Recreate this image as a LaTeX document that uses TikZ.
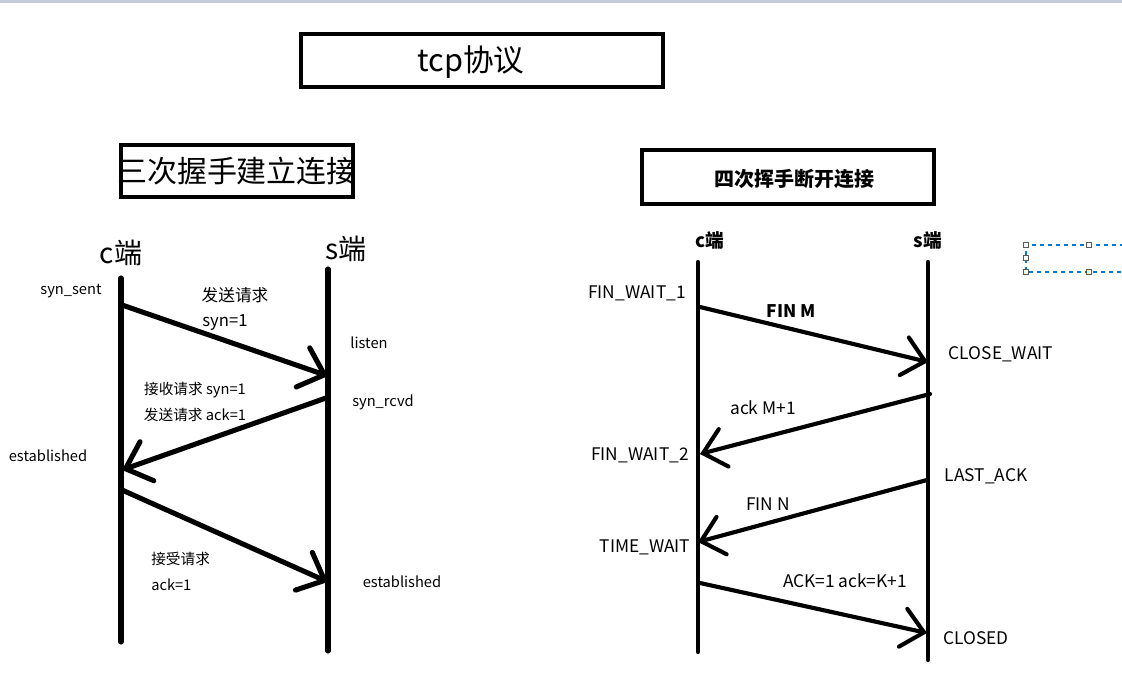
\documentclass[tikz,border=0pt]{standalone}
\usepackage{fontspec}
\setmainfont{Noto Sans CJK SC}
\usetikzlibrary{arrows.meta}
\definecolor{topbar}{RGB}{196,205,222}
\definecolor{selblue}{RGB}{0,120,215}
\definecolor{handle}{RGB}{90,90,90}
\tikzset{
  lifeL/.style={line width=3.8pt,line cap=round},
  lifeR/.style={line width=3.1pt,line cap=round},
  msgL/.style={line width=3.8pt,line cap=round,-{Straight Barb[length=17pt,width=31pt,line cap=round]}},
  msgR/.style={line width=3.1pt,line cap=round,-{Straight Barb[length=16pt,width=29pt,line cap=round]}},
  box/.style={draw,line width=3.3pt,inner sep=0pt},
  lbl/.style={inner sep=0pt,font=\fontsize{11}{13}\selectfont},
  lblR/.style={inner sep=0pt,font=\fontsize{13}{15}\selectfont},
}
\begin{document}
\begin{tikzpicture}[x=0.75pt,y=-0.75pt]
		\useasboundingbox (0,0) rectangle (1122,696);
		\fill[topbar] (0,0) rectangle (1122,2.5);
		% titles
		\node[box,minimum width=271.5pt,minimum height=39.75pt] (tcpbox) at (482,60.5) {};
		\node[inner sep=0pt,font=\fontsize{23}{26}\selectfont] (tcp) at (471,62) {tcp协议};
		\node[box,minimum width=174pt,minimum height=39pt] (sanbox) at (237,171) {};
		\node[inner sep=0pt,font=\fontsize{22.5}{26}\selectfont] (san) at (237,171) {三次握手建立连接};
		\node[box,minimum width=219pt,minimum height=40.5pt] (sibox) at (788,177) {};
		\node[inner sep=0pt,font=\fontsize{15}{18}\selectfont\bfseries] (si) at (794,179) {四次挥手断开连接};
		% three-way handshake
		\node[inner sep=0pt,font=\fontsize{21}{24}\selectfont] (c1) at (121,253) {c端};
		\node[inner sep=0pt,font=\fontsize{21}{24}\selectfont] (s1) at (346,249) {s端};
		\coordinate (c1top) at (121,278); \coordinate (c1bot) at (121,642);
		\coordinate (s1top) at (328,269); \coordinate (s1bot) at (328,651);
		\draw[lifeL] (c1top)--(c1bot);
		\draw[lifeL] (s1top)--(s1bot);
		\coordinate (a1) at (122,305); \coordinate (b1) at (328,376);
		\coordinate (b2) at (326,398); \coordinate (a2) at (122,470);
		\coordinate (a3) at (122,490); \coordinate (b3) at (328,582);
		\draw[msgL] (a1)--(b1);
		\draw[msgL] (b2)--(a2);
		\draw[msgL] (a3)--(b3);
		\node[lbl] (synsent) at (71,291) {syn\_sent};
		\node[inner sep=0pt,font=\fontsize{12.5}{15}\selectfont] (req1) at (235,295) {发送请求};
		\node[inner sep=0pt,font=\fontsize{12.5}{15}\selectfont] (syn1) at (225,323) {syn=1};
		\node[lbl] (listen) at (369,343) {listen};
		\node[lbl] (recv) at (195,390) {接收请求 syn=1};
		\node[lbl] (send) at (195,415) {发送请求 ack=1};
		\node[lbl] (synrcvd) at (383,402) {syn\_rcvd};
		\node[lbl] (estc) at (48,456) {established};
		\node[lbl,anchor=west] (acc) at (151,559) {接受请求};
		\node[lbl,anchor=west] (ack1) at (151,585) {ack=1};
		\node[lbl] (ests) at (402,582) {established};
		% four-way handshake
		\node[inner sep=0pt,font=\fontsize{14}{16}\selectfont\bfseries] (c2) at (710,240) {c端};
		\node[inner sep=0pt,font=\fontsize{14}{16}\selectfont\bfseries] (s2) at (928,240) {s端};
		\coordinate (c2top) at (698,262); \coordinate (c2bot) at (698,652);
		\coordinate (s2top) at (928,262); \coordinate (s2bot) at (928,660);
		\draw[lifeR] (c2top)--(c2bot);
		\draw[lifeR] (s2top)--(s2bot);
		\coordinate (p1) at (700,307); \coordinate (q1) at (928,362);
		\coordinate (q2) at (930,394); \coordinate (p2) at (700,454);
		\coordinate (q3) at (927,480); \coordinate (p3) at (698,542);
		\coordinate (p4) at (700,583); \coordinate (q4) at (927,633);
		\draw[msgR] (p1)--(q1);
		\draw[msgR] (q2)--(p2);
		\draw[msgR] (q3)--(p3);
		\draw[msgR] (p4)--(q4);
		\node[lblR] (fw1) at (637,293) {FIN\_WAIT\_1};
		\node[lblR,font=\fontsize{13}{15}\selectfont\bfseries] (finm) at (791,311) {FIN M};
		\node[lblR] (cw) at (1001,354) {CLOSE\_WAIT};
		\node[lblR] (ackm) at (763,408) {ack M+1};
		\node[lblR] (fw2) at (640,455) {FIN\_WAIT\_2};
		\node[lblR] (la) at (986,476) {LAST\_ACK};
		\node[lblR] (finn) at (768,504) {FIN N};
		\node[lblR] (tw) at (645,547) {TIME\_WAIT};
		\node[lblR] (ackk) at (845,581) {ACK=1 ack=K+1};
		\node[lblR] (closed) at (976,638) {CLOSED};
		% leftover selection frame
		\draw[selblue,dashed,line width=0.9pt] (1140,245)--(1026,245)--(1026,272)--(1140,272);
		\foreach \hx/\hy in {1026/245,1089/245,1026/258,1026/272,1089/272}
			\draw[handle,fill=white,line width=0.7pt] (\hx-2.5,\hy-2.5) rectangle (\hx+2.5,\hy+2.5);
\end{tikzpicture}
\end{document}
